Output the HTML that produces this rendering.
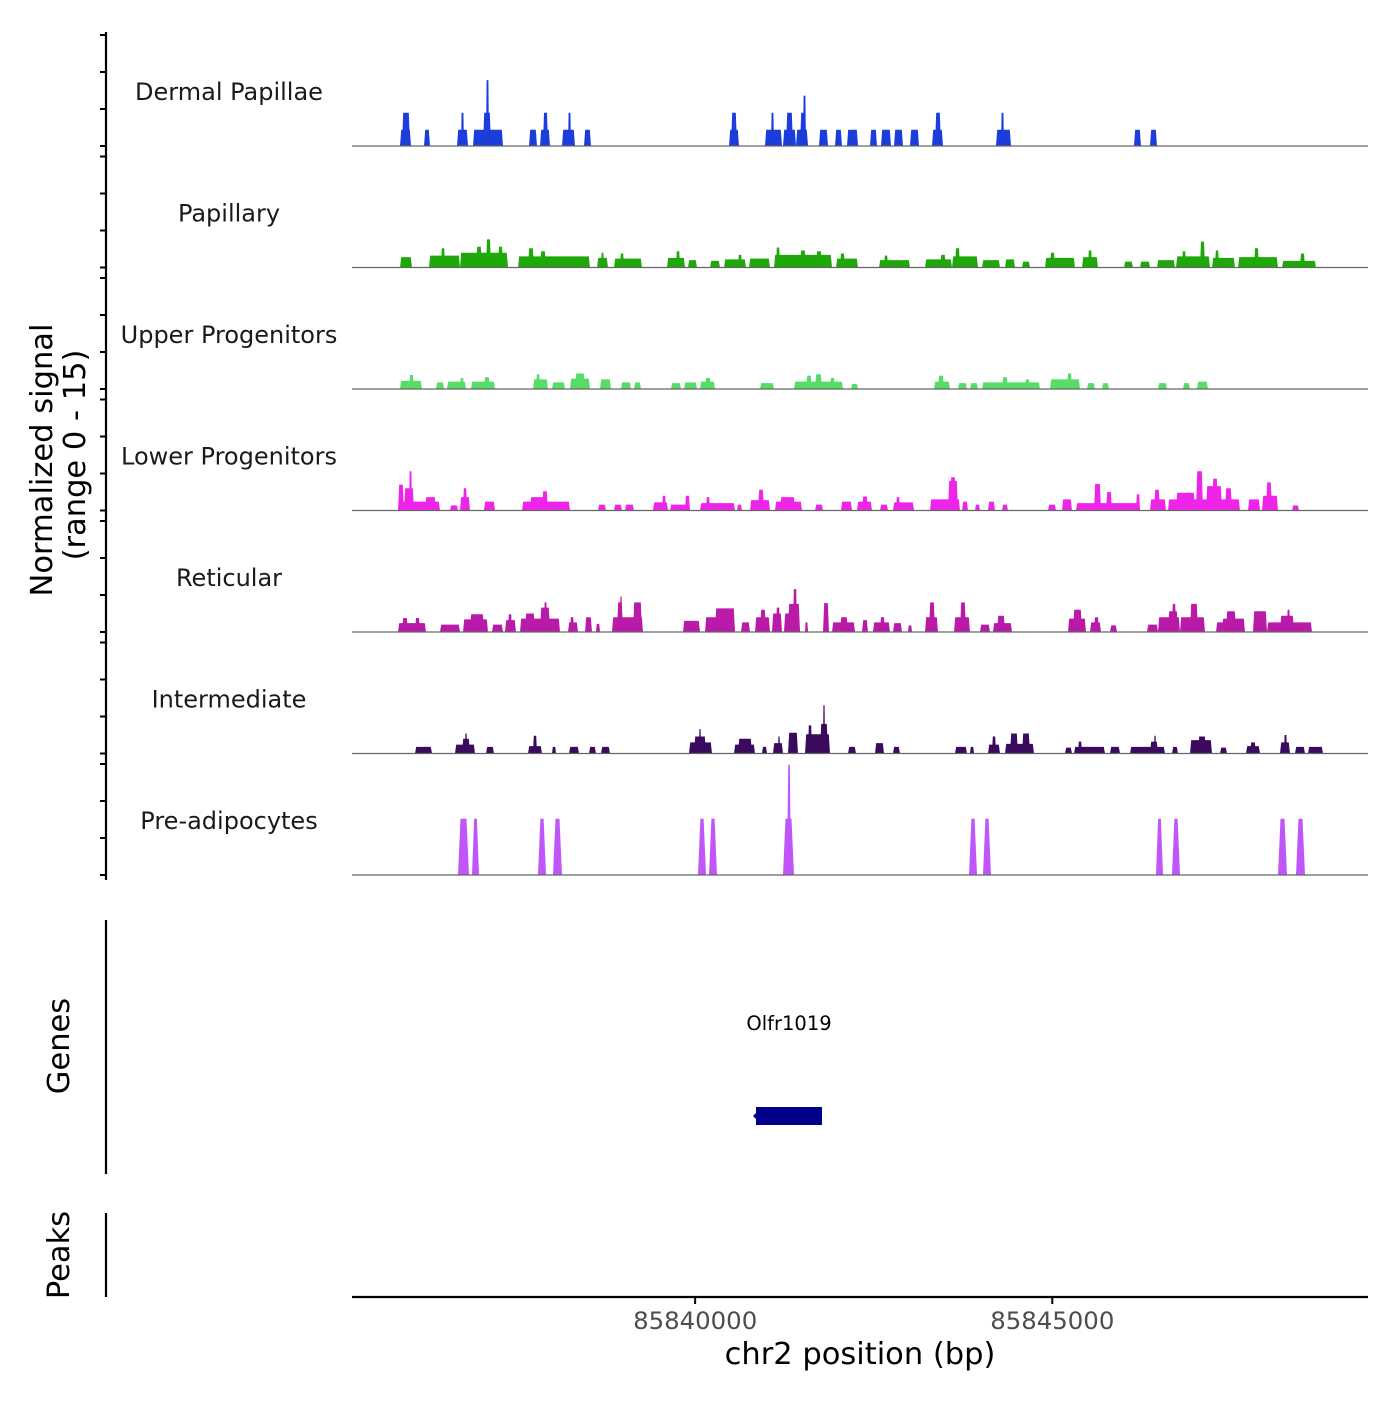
<!DOCTYPE html>
<html><head><meta charset="utf-8"><style>
html,body{margin:0;padding:0;background:#fff}
svg text{font-family:"DejaVu Sans","Liberation Sans",sans-serif}
</style></head><body>
<svg id="chart" width="1400" height="1400" viewBox="0 0 1400 1400" xmlns="http://www.w3.org/2000/svg">
<g id="tracks"></g>
<g id="axes"></g>
</svg>
<script>
// ---- data ----
const regionStart = 85835196;
const regionEnd = 85849420;
const trackNames = ["Dermal Papillae","Papillary","Upper Progenitors","Lower Progenitors","Reticular","Intermediate","Pre-adipocytes"];
const trackColors = ["#1a3ddb","#1ea80a","#57dc68","#ee24e8","#b91aa8","#3a0a5e","#c056f8"];
const yTicks = [0,5,10,15];
const xTickValues = [85840000,85845000];
const xTickLabels = ["85840000","85845000"];
const geneName = "Olfr1019";
const geneStart = 85840852;
const geneEnd = 85841776;
// peaks: [startOffsetBp, endOffsetBp, value] relative to regionStart
const dermalPapillae = [[672,826,2.2],[700,812,4.5],[1008,1092,2.2],[1470,1624,2.2],[1526,1568,4.5],[1694,2114,2.2],[1834,1946,4.5],[1876,1918,8.9],[2478,2590,2.2],[2632,2772,2.2],[2674,2744,4.5],[2940,3122,2.2],[3024,3066,4.5],[3248,3346,2.2],[5278,5418,2.2],[5306,5390,4.5],[5782,6020,2.2],[5866,5908,4.5],[6034,6216,2.2],[6076,6174,4.5],[6216,6384,2.2],[6272,6356,4.5],[6314,6356,6.8],[6538,6664,2.2],[6762,6860,2.2],[6930,7084,2.2],[7252,7350,2.2],[7406,7546,2.2],[7588,7714,2.2],[7812,7938,2.2],[8120,8274,2.2],[8162,8246,4.5],[9016,9226,2.2],[9086,9128,4.5],[10948,11046,2.2],[11172,11270,2.2]];
const papillary = [[672,840,1.4],[1078,1512,1.6],[1246,1302,2.6],[1512,2184,2.0],[1736,1820,2.8],[1876,1946,3.8],[2044,2114,2.8],[2324,3332,1.5],[2464,2548,2.6],[2632,2716,2.2],[3430,3584,1.3],[3486,3528,2.0],[3668,4060,1.2],[3752,3808,1.9],[4410,4662,1.3],[4536,4592,2.2],[4704,4830,1.0],[5012,5152,0.9],[5208,5516,1.1],[5404,5460,1.7],[5558,5852,1.2],[5908,6720,1.7],[5936,5992,2.7],[6272,6356,2.3],[6496,6580,2.2],[6776,7084,1.2],[6832,6902,1.9],[7378,7812,1.0],[7448,7504,1.6],[8022,8400,1.1],[8232,8316,1.7],[8400,8764,1.5],[8442,8512,2.6],[8820,9072,1.0],[9142,9282,1.1],[9380,9492,0.8],[9702,10122,1.3],[9772,9842,2.0],[10220,10444,1.4],[10304,10360,2.3],[10808,10934,0.8],[11032,11172,0.8],[11270,11522,1.0],[11536,12012,1.5],[11620,11676,2.2],[11872,11942,3.5],[12040,12362,1.3],[12082,12138,2.3],[12404,12964,1.4],[12628,12698,2.6],[13020,13496,0.9],[13272,13342,1.9]];
const upperProgenitors = [[672,980,1.1],[798,868,1.9],[1176,1288,0.9],[1330,1596,1.0],[1512,1568,1.5],[1666,2002,1.0],[1848,1932,1.6],[2534,2744,1.3],[2576,2632,2.0],[2800,2982,0.9],[3052,3332,1.4],[3122,3262,2.1],[3472,3626,1.3],[3766,3906,0.9],[3948,4046,0.9],[4466,4606,0.8],[4648,4830,0.9],[4872,5082,1.0],[4942,5026,1.5],[5712,5908,0.8],[6188,6874,1.0],[6356,6440,1.8],[6482,6580,2.0],[6692,6762,1.5],[6986,7084,0.7],[8148,8372,1.0],[8204,8288,1.8],[8484,8610,0.8],[8652,8764,0.8],[8820,9632,0.9],[9100,9184,1.6],[9422,9492,1.3],[9772,10192,1.3],[10010,10080,2.1],[10290,10402,0.8],[10500,10598,0.8],[11284,11410,0.8],[11634,11732,0.8],[11830,11984,1.0]];
const lowerProgenitors = [[644,1232,1.2],[644,728,3.5],[728,868,3.0],[798,840,5.3],[1022,1176,1.8],[1372,1484,0.7],[1512,1652,1.8],[1554,1610,3.0],[1848,2002,1.2],[2380,3052,1.2],[2492,2702,1.8],[2660,2744,2.6],[3444,3556,0.8],[3668,3780,0.8],[3822,3948,0.8],[4214,4424,1.1],[4340,4396,2.0],[4452,4732,0.8],[4662,4732,2.0],[4872,5362,1.0],[4956,5012,1.8],[5390,5460,0.8],[5572,5852,1.4],[5684,5768,2.8],[5922,6300,1.2],[5992,6202,1.8],[6482,6594,0.8],[6846,7000,1.2],[7070,7280,1.2],[7140,7224,1.9],[7392,7504,0.8],[7574,7868,1.1],[7616,7672,1.8],[8092,8512,1.5],[8344,8484,4.0],[8372,8456,4.5],[8540,8624,1.2],[8722,8792,0.8],[8904,9002,1.2],[9100,9184,0.8],[9744,9856,0.8],[9940,10080,1.5],[10136,11032,1.0],[10388,10486,3.6],[10556,10640,2.5],[10976,11032,2.2],[11172,11396,1.5],[11228,11312,2.8],[11424,12432,1.5],[11536,11802,2.4],[11816,11914,5.3],[11956,12180,3.3],[12040,12124,4.3],[12222,12320,3.0],[12544,12712,1.5],[12740,12964,2.0],[12796,12880,3.8],[13160,13258,0.7]];
const reticular = [[644,1036,1.2],[700,784,1.9],[882,952,1.9],[1232,1512,1.0],[1554,1904,1.7],[1652,1848,2.4],[1960,2114,1.0],[2142,2296,1.6],[2184,2240,2.4],[2352,2912,1.8],[2422,2562,2.5],[2632,2772,3.3],[2688,2730,4.0],[3024,3164,1.3],[3052,3108,2.0],[3262,3360,2.0],[3416,3472,1.1],[3640,4074,2.0],[3710,3794,4.0],[3752,3780,4.8],[3934,4060,4.0],[4634,4872,1.5],[4942,5362,2.0],[5082,5362,3.2],[5446,5572,1.3],[5642,5852,2.0],[5712,5796,3.0],[5880,6020,2.5],[5936,5992,3.3],[6048,6272,2.5],[6104,6272,3.8],[6174,6230,5.8],[6342,6384,1.3],[6594,6678,3.9],[6720,7042,1.3],[6832,6944,2.0],[7140,7224,1.6],[7294,7532,1.3],[7392,7462,2.0],[7574,7700,1.2],[7784,7840,0.9],[8022,8204,2.0],[8078,8162,4.0],[8428,8652,2.0],[8512,8596,4.0],[8792,8932,1.0],[8974,9240,1.2],[9030,9142,2.2],[10024,10276,1.8],[10094,10220,3.0],[10332,10486,1.3],[10388,10458,2.0],[10612,10710,0.9],[11130,11284,1.0],[11284,11592,2.0],[11424,11564,2.8],[11480,11536,3.8],[11592,11942,2.0],[11732,11844,3.8],[12096,12222,1.3],[12180,12502,1.8],[12236,12376,2.8],[12614,12810,2.8],[12810,13440,1.3],[12992,13188,2.2],[13090,13132,3.0]];
const intermediate = [[882,1120,0.9],[1442,1722,1.2],[1540,1652,2.0],[1582,1610,2.7],[1876,1988,0.9],[2464,2660,1.0],[2534,2590,2.4],[2800,2856,0.9],[3038,3178,0.9],[3318,3416,0.9],[3486,3612,0.9],[4718,5040,1.5],[4788,4956,2.3],[4858,4886,3.3],[5348,5642,1.2],[5404,5600,2.0],[5740,5810,0.9],[5894,6034,1.4],[5964,5992,2.3],[6104,6244,2.8],[6342,6692,2.6],[6384,6440,3.8],[6552,6664,4.0],[6594,6622,6.5],[6944,7056,0.9],[7322,7448,1.4],[7574,7672,0.9],[8442,8610,0.9],[8652,8708,0.9],[8904,9072,1.2],[8960,9016,2.3],[9142,9548,1.3],[9212,9324,2.7],[9380,9492,2.7],[9982,10080,0.8],[10108,10542,0.9],[10164,10220,1.6],[10612,10752,0.9],[10892,11382,0.9],[11172,11284,1.6],[11228,11256,2.4],[11480,11564,0.9],[11732,12040,1.8],[11844,11956,2.3],[12152,12250,0.8],[12516,12712,1.0],[12572,12656,1.5],[12992,13132,1.5],[13048,13090,2.5],[13202,13342,0.9],[13384,13594,0.9]];
const preAdipocytes = [[1484,1638,7.6],[1680,1778,7.6],[2604,2716,7.6],[2814,2940,7.6],[4844,4956,7.6],[4998,5110,7.6],[6034,6188,7.6],[6090,6146,14.9],[8638,8750,7.6],[8834,8946,7.6],[11256,11354,7.6],[11480,11592,7.6],[12964,13090,7.6],[13216,13342,7.6]];
const trackData = [dermalPapillae,papillary,upperProgenitors,lowerProgenitors,reticular,intermediate,preAdipocytes];

// ---- layout ----
const NS = "http://www.w3.org/2000/svg";
const plotLeft = 352, plotRight = 1368;
const firstBaseline = 146, trackStep = 121.5, unitPx = 7.4;
function xScale(bp){ return plotLeft + (bp - regionStart) / (regionEnd - regionStart) * (plotRight - plotLeft); }
function yScale(i, v){ return firstBaseline + i*trackStep - v*unitPx; }
function mk(tag, attrs, parent){ const e=document.createElementNS(NS,tag); for(const k in attrs) e.setAttribute(k,attrs[k]); parent.appendChild(e); return e; }
const tracksG = document.getElementById('tracks');
const axesG = document.getElementById('axes');

trackData.forEach((peaks, i) => {
  const g = mk('g', {}, tracksG);
  
  
  const base = yScale(i, 0);
  peaks.forEach(p => {
    const x0 = xScale(regionStart + p[0]), x1 = xScale(regionStart + p[1]);
    const w = x1 - x0;
    const inset = i === 6 ? Math.min(2.5, w*0.3) : Math.min(1.2, w*0.2);
    const yt = yScale(i, p[2]);
    const poly = mk('polygon', {points: `${x0},${base} ${x0+inset},${yt} ${x1-inset},${yt} ${x1},${base}`, fill: trackColors[i]}, g);
    
    
  });
  const bl = mk('line', {x1: plotLeft, x2: plotRight, y1: base, y2: base, stroke: '#666', 'stroke-width': 1.2}, g);
  
  
  const lab = mk('text', {x: 229, y: base - 46, 'text-anchor': 'middle', 'font-size': 24, fill: '#1a1a1a'}, g);
  lab.textContent = trackNames[i];
  
  
  yTicks.forEach(t => {
    const ty = yScale(i, t);
    const tk = mk('line', {x1: 100, x2: 106, y1: ty, y2: ty, stroke: '#000', 'stroke-width': 2}, axesG);
    
    
  });
});

// y axis
const ya = mk('line', {x1:106,x2:106,y1:32,y2:880,stroke:'#000','stroke-width':2.2}, axesG);


const yt1 = mk('text', {x:0,y:0,'text-anchor':'middle','font-size':30.5,fill:'#000',transform:'translate(52,460) rotate(-90)'}, axesG);
yt1.textContent = 'Normalized signal';


const yt2 = mk('text', {x:0,y:0,'text-anchor':'middle','font-size':30.5,fill:'#000',transform:'translate(85,455) rotate(-90)'}, axesG);
yt2.textContent = '(range 0 - 15)';



// genes panel
const ga = mk('line', {x1:106,x2:106,y1:920,y2:1174,stroke:'#000','stroke-width':2.2}, axesG);


const gt = mk('text', {x:0,y:0,'text-anchor':'middle','font-size':30.5,fill:'#000',transform:'translate(69,1046) rotate(-90)'}, axesG);
gt.textContent = 'Genes';


const gx0 = xScale(geneStart), gx1 = xScale(geneEnd);
const gr = mk('rect', {x:gx0,y:1107,width:gx1-gx0,height:18,fill:'#00008b'}, axesG);


const garr = mk('polygon', {points:`${gx0-3},1116 ${gx0+2},1111 ${gx0+2},1121`, fill:'#00008b'}, axesG);


const gl = mk('text', {x:(gx0+gx1)/2,y:1030,'text-anchor':'middle','font-size':19.5,fill:'#000'}, axesG);
gl.textContent = geneName;



// peaks panel
const pa = mk('line', {x1:106,x2:106,y1:1213,y2:1297,stroke:'#000','stroke-width':2.2}, axesG);


const pt = mk('text', {x:0,y:0,'text-anchor':'middle','font-size':30.5,fill:'#000',transform:'translate(69,1255) rotate(-90)'}, axesG);
pt.textContent = 'Peaks';



// x axis
const xa = mk('line', {x1:plotLeft,x2:plotRight,y1:1297,y2:1297,stroke:'#000','stroke-width':2.2}, axesG);


xTickValues.forEach((v, k) => {
  const x = xScale(v);
  const tk = mk('line', {x1:x,x2:x,y1:1297,y2:1304,stroke:'#000','stroke-width':2}, axesG);
  
  
  const tl = mk('text', {x:x,y:1329,'text-anchor':'middle','font-size':24.4,fill:'#4d4d4d'}, axesG);
  tl.textContent = xTickLabels[k];
  
  
});
const xt = mk('text', {x:860,y:1364,'text-anchor':'middle','font-size':30.5,fill:'#000'}, axesG);
xt.textContent = 'chr2 position (bp)';


</script>
</body></html>
